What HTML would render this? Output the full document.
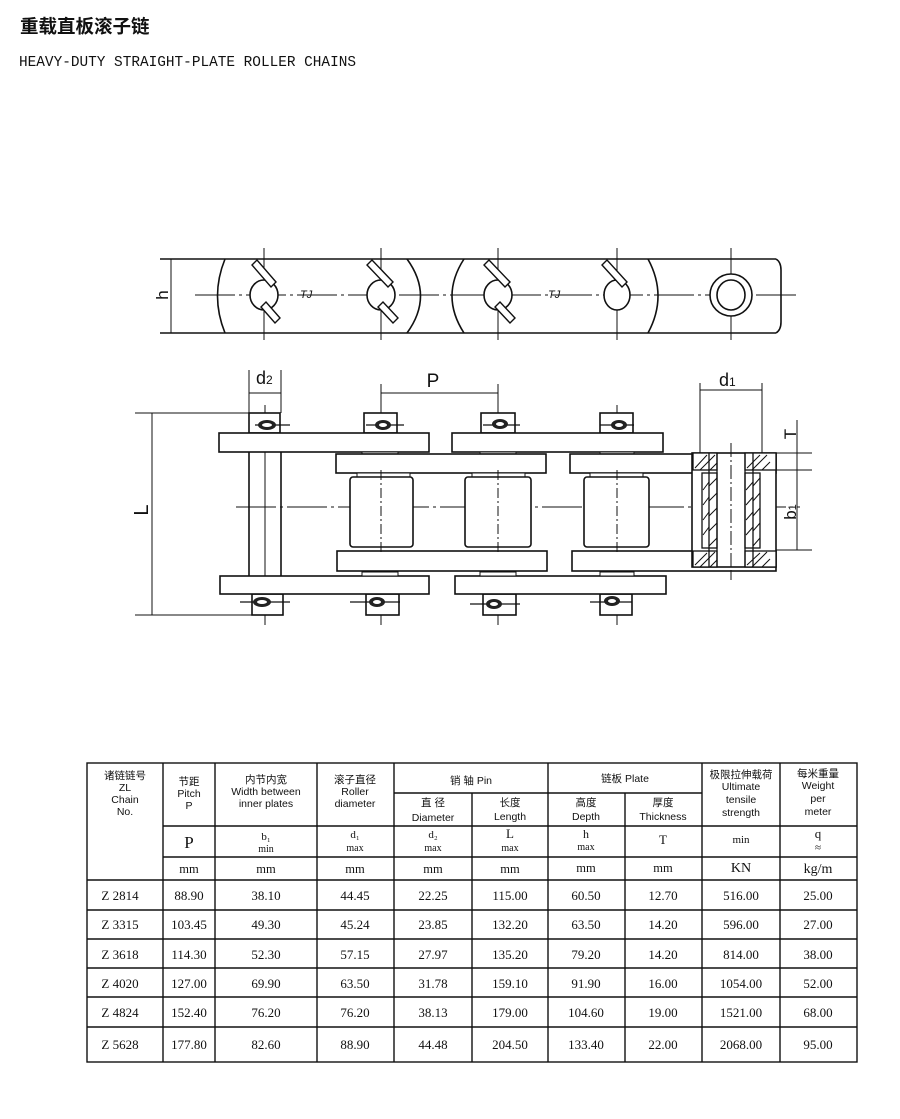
<!DOCTYPE html>
<html><head><meta charset="utf-8"><style>
html,body{margin:0;padding:0;background:#fff;}
svg{display:block;font-family:"Liberation Sans","Noto Sans CJK SC",sans-serif;}
text{fill:#111;}
.s{font-family:"Liberation Serif","Noto Serif CJK SC",serif;}
</style></head><body>
<svg width="900" height="1119" viewBox="0 0 900 1119" xmlns="http://www.w3.org/2000/svg">
<rect width="900" height="1119" fill="#fff"/>
<text x="20" y="33" font-size="18.5" font-weight="bold" style="font-family:'Noto Sans CJK SC',sans-serif">重载直板滚子链</text>
<text x="19" y="66" font-size="14.5" textLength="337" lengthAdjust="spacingAndGlyphs" style="font-family:'Liberation Mono',monospace">HEAVY-DUTY STRAIGHT-PLATE ROLLER CHAINS</text>

<g stroke="#111" fill="none" stroke-width="1.6">
<!-- TOP VIEW -->
<line x1="160" y1="259" x2="776" y2="259"/>
<line x1="160" y1="333" x2="776" y2="333"/>
<path d="M776 259 Q781 262 781 270 L781 322 Q781 330 776 333"/>
<path d="M225 259 Q210 296 225 333"/>
<path d="M407 259 Q434 296 407 333"/>
<path d="M464 259 Q440 296 464 333"/>
<path d="M648 259 Q668 296 648 333"/>
<line x1="171" y1="259" x2="171" y2="333" stroke-width="1"/>
<g stroke-width="1">
<line x1="195" y1="295" x2="800" y2="295" stroke-dasharray="40 4 3 4"/>
<line x1="264" y1="248" x2="264" y2="340"/><line x1="381" y1="248" x2="381" y2="340"/>
<line x1="498" y1="248" x2="498" y2="340"/><line x1="617" y1="248" x2="617" y2="340"/>
<line x1="731" y1="248" x2="731" y2="340"/>
</g>
<g fill="#fff">
<ellipse cx="264" cy="295" rx="14" ry="15"/>
<ellipse cx="381" cy="295" rx="14" ry="15"/>
<ellipse cx="498" cy="295" rx="14" ry="15"/>
<ellipse cx="617" cy="295" rx="13" ry="15"/>
<ellipse cx="731" cy="295" rx="21" ry="21"/>
<ellipse cx="731" cy="295" rx="14" ry="15"/>
</g>
<g fill="#fff" stroke-width="1.4">
<polygon points="252,265 257,260 276,282 271,287"/><polygon points="261,307 266,302 280,318 275,323"/>
<polygon points="367,265 372,260 393,282 388,287"/><polygon points="378,307 383,302 398,318 393,323"/>
<polygon points="484,265 489,260 510,282 505,287"/><polygon points="495,307 500,302 515,318 510,323"/>
<polygon points="602,265 607,260 627,282 622,287"/>
</g>
<!-- SIDE VIEW -->
<g stroke-width="1">
<line x1="249" y1="370" x2="249" y2="413"/><line x1="281" y1="370" x2="281" y2="413"/>
<line x1="249" y1="393" x2="281" y2="393"/>
<line x1="381" y1="384" x2="381" y2="625"/><line x1="498" y1="384" x2="498" y2="625"/>
<line x1="617" y1="405" x2="617" y2="625"/><line x1="265" y1="405" x2="265" y2="625"/>
<line x1="731" y1="443" x2="731" y2="580"/>
<line x1="381" y1="393" x2="498" y2="393"/>
<line x1="700" y1="383" x2="700" y2="453"/><line x1="762" y1="383" x2="762" y2="453"/>
<line x1="700" y1="390" x2="762" y2="390"/>
<line x1="135" y1="413" x2="250" y2="413"/><line x1="135" y1="615" x2="255" y2="615"/>
<line x1="152" y1="413" x2="152" y2="615"/>
<line x1="236" y1="507" x2="800" y2="507" stroke-dasharray="40 4 3 4"/>
<line x1="770" y1="453" x2="812" y2="453"/><line x1="770" y1="470" x2="812" y2="470"/>
<line x1="776" y1="550" x2="812" y2="550"/>
<line x1="797" y1="420" x2="797" y2="550"/>
</g>
<line x1="249" y1="452" x2="249" y2="576"/><line x1="281" y1="452" x2="281" y2="576"/>
<rect x="249" y="413" width="31" height="20" fill="#fff"/>
<rect x="364" y="413" width="33" height="20" fill="#fff"/>
<rect x="481" y="413" width="34" height="20" fill="#fff"/>
<rect x="600" y="413" width="33" height="20" fill="#fff"/>
<rect x="252" y="594" width="31" height="21" fill="#fff"/>
<rect x="366" y="594" width="33" height="21" fill="#fff"/>
<rect x="483" y="594" width="33" height="21" fill="#fff"/>
<rect x="600" y="594" width="32" height="21" fill="#fff"/>
<rect x="219" y="433" width="210" height="19" fill="#fff"/>
<rect x="452" y="433" width="211" height="19" fill="#fff"/>
<rect x="220" y="576" width="209" height="18" fill="#fff"/>
<rect x="455" y="576" width="211" height="18" fill="#fff"/>
<rect x="362" y="452" width="36" height="2" fill="#fff" stroke-width="1"/>
<rect x="480" y="452" width="36" height="2" fill="#fff" stroke-width="1"/>
<rect x="600" y="452" width="34" height="2" fill="#fff" stroke-width="1"/>
<rect x="362" y="572" width="36" height="4" fill="#fff" stroke-width="1"/>
<rect x="480" y="572" width="36" height="4" fill="#fff" stroke-width="1"/>
<rect x="600" y="572" width="34" height="4" fill="#fff" stroke-width="1"/>
<rect x="336" y="454" width="210" height="19" fill="#fff"/>
<rect x="570" y="454" width="206" height="19" fill="#fff"/>
<rect x="337" y="551" width="210" height="20" fill="#fff"/>
<rect x="572" y="551" width="204" height="20" fill="#fff"/>
<rect x="357" y="473" width="53" height="4" fill="#fff" stroke-width="1"/>
<rect x="472" y="473" width="53" height="4" fill="#fff" stroke-width="1"/>
<rect x="590" y="473" width="53" height="4" fill="#fff" stroke-width="1"/>
<rect x="350" y="477" width="63" height="70" rx="3" fill="#fff"/>
<rect x="465" y="477" width="66" height="70" rx="3" fill="#fff"/>
<rect x="584" y="477" width="65" height="70" rx="3" fill="#fff"/>
<g stroke-width="1">
<line x1="381" y1="470" x2="381" y2="555" stroke-dasharray="10 3 2 3"/>
<line x1="498" y1="470" x2="498" y2="555" stroke-dasharray="10 3 2 3"/>
<line x1="617" y1="470" x2="617" y2="555" stroke-dasharray="10 3 2 3"/>
</g>
<rect x="692" y="453" width="84" height="114" fill="#fff"/>
<g stroke-width="1.3">
<rect x="693" y="453" width="24" height="17" fill="#fff"/>
<rect x="745" y="453" width="31" height="17" fill="#fff"/>
<rect x="693" y="551" width="24" height="16" fill="#fff"/>
<rect x="745" y="551" width="31" height="16" fill="#fff"/>
<rect x="702" y="473" width="15" height="75" fill="#fff"/>
<rect x="745" y="473" width="15" height="75" fill="#fff"/>
<line x1="717" y1="453" x2="717" y2="567"/><line x1="745" y1="453" x2="745" y2="567"/>
<line x1="709" y1="453" x2="709" y2="567"/><line x1="753" y1="453" x2="753" y2="567"/>
</g>
<g stroke-width="1">
<path d="M695 468 L707 455 M700 470 L715 455 M710 470 L717 463 M747 468 L760 455 M752 470 L767 455 M762 470 L770 462 M695 565 L707 553 M700 567 L715 552 M710 567 L717 560 M747 565 L760 553 M752 567 L767 552 M762 567 L770 559"/>
<path d="M703 490 L709 482 M703 505 L709 497 M703 520 L709 512 M703 535 L709 527 M709 486 L717 478 M709 501 L717 493 M709 516 L717 508 M709 531 L717 523 M709 546 L717 538 M746 490 L753 482 M746 505 L753 497 M746 520 L753 512 M746 535 L753 527 M753 486 L760 478 M753 501 L760 493 M753 516 L760 508 M753 531 L760 523 M753 546 L760 538"/>
<line x1="731" y1="443" x2="731" y2="580" stroke-dasharray="14 3 2 3"/>
</g>
<g stroke-width="1.2">
<line x1="255" y1="425" x2="290" y2="425"/><line x1="366" y1="425" x2="404" y2="425"/>
<line x1="483" y1="425" x2="520" y2="425"/><line x1="600" y1="425" x2="634" y2="425"/>
<line x1="240" y1="602" x2="290" y2="602"/><line x1="350" y1="602" x2="400" y2="602"/>
<line x1="470" y1="604" x2="520" y2="604"/><line x1="590" y1="602" x2="632" y2="602"/>
</g>
<g fill="#222" stroke="none">
<ellipse cx="267" cy="425" rx="9" ry="5"/><ellipse cx="383" cy="425" rx="8" ry="5"/>
<ellipse cx="500" cy="424" rx="8" ry="5"/><ellipse cx="619" cy="425" rx="8" ry="5"/>
<ellipse cx="262" cy="602" rx="9" ry="5"/><ellipse cx="377" cy="602" rx="8" ry="5"/>
<ellipse cx="494" cy="604" rx="8" ry="5"/><ellipse cx="612" cy="601" rx="8" ry="5"/>
</g>
<g fill="#fff" stroke="none">
<ellipse cx="267" cy="425" rx="5" ry="2"/><ellipse cx="383" cy="425" rx="4" ry="2"/>
<ellipse cx="500" cy="424" rx="4" ry="2"/><ellipse cx="619" cy="425" rx="4" ry="2"/>
<ellipse cx="262" cy="602" rx="5" ry="2"/><ellipse cx="377" cy="602" rx="4" ry="2"/>
<ellipse cx="494" cy="604" rx="4" ry="2"/><ellipse cx="612" cy="601" rx="4" ry="2"/>
</g>
</g>
<text x="300" y="298" font-size="11" font-style="italic">TJ</text>
<text x="548" y="298" font-size="11" font-style="italic">TJ</text>
<text x="0" y="0" font-size="17" transform="translate(168,295) rotate(-90)" text-anchor="middle">h</text>
<text x="256" y="384" font-size="18">d<tspan font-size="12">2</tspan></text>
<text x="433" y="387" font-size="19" text-anchor="middle">P</text>
<text x="719" y="386" font-size="18">d<tspan font-size="12">1</tspan></text>
<text x="0" y="0" font-size="20" transform="translate(148,510) rotate(-90)" text-anchor="middle">L</text>
<text x="0" y="0" font-size="17" transform="translate(796,434) rotate(-90)" text-anchor="middle">T</text>
<text x="0" y="0" font-size="17" transform="translate(796,512) rotate(-90)" text-anchor="middle">b<tspan font-size="11">1</tspan></text>

<g stroke="#111" stroke-width="1.4" fill="none">
<rect x="87" y="763" width="770" height="299"/>
<line x1="163" y1="763" x2="163" y2="1062"/><line x1="215" y1="763" x2="215" y2="1062"/>
<line x1="317" y1="763" x2="317" y2="1062"/><line x1="394" y1="763" x2="394" y2="1062"/>
<line x1="472" y1="793" x2="472" y2="1062"/><line x1="548" y1="763" x2="548" y2="1062"/>
<line x1="625" y1="793" x2="625" y2="1062"/><line x1="702" y1="763" x2="702" y2="1062"/>
<line x1="780" y1="763" x2="780" y2="1062"/>
<line x1="394" y1="793" x2="702" y2="793"/>
<line x1="163" y1="826" x2="857" y2="826"/>
<line x1="163" y1="857" x2="857" y2="857"/>
<line x1="87" y1="880" x2="857" y2="880"/>
<line x1="87" y1="910" x2="857" y2="910"/><line x1="87" y1="939" x2="857" y2="939"/>
<line x1="87" y1="968" x2="857" y2="968"/><line x1="87" y1="997" x2="857" y2="997"/>
<line x1="87" y1="1027" x2="857" y2="1027"/>
</g>
<g font-size="10.5" text-anchor="middle">
<text x="125" y="779">诸链链号</text><text x="125" y="791">ZL</text><text x="125" y="803">Chain</text><text x="125" y="815">No.</text>
<text x="189" y="785">节距</text><text x="189" y="797">Pitch</text><text x="189" y="809">P</text>
<text x="266" y="783">内节内宽</text><text x="266" y="795">Width  between</text><text x="266" y="807">inner plates</text>
<text x="355" y="783">滚子直径</text><text x="355" y="795">Roller</text><text x="355" y="807">diameter</text>
<text x="471" y="784">销  轴    Pin</text>
<text x="625" y="782">链板    Plate</text>
<text x="433" y="806">直 径</text><text x="433" y="821">Diameter</text>
<text x="510" y="806">长度</text><text x="510" y="820">Length</text>
<text x="586" y="806">高度</text><text x="586" y="820">Depth</text>
<text x="663" y="806">厚度</text><text x="663" y="820">Thickness</text>
<text x="741" y="778">极限拉伸载荷</text><text x="741" y="790">Ultimate</text><text x="741" y="803">tensile</text><text x="741" y="816">strength</text>
<text x="818" y="777">每米重量</text><text x="818" y="789">Weight</text><text x="818" y="802">per</text><text x="818" y="815">meter</text>
</g>
<g class="s" text-anchor="middle" font-size="11">
<text x="189" y="848" font-size="17">P</text>
<text x="266" y="840" font-size="11">b₁</text><text x="266" y="852" font-size="10">min</text>
<text x="355" y="838">d₁</text><text x="355" y="851" font-size="10">max</text>
<text x="433" y="838">d₂</text><text x="433" y="851" font-size="10">max</text>
<text x="510" y="838" font-size="13">L</text><text x="510" y="851" font-size="10">max</text>
<text x="586" y="838" font-size="12">h</text><text x="586" y="850" font-size="10">max</text>
<text x="663" y="844" font-size="13">T</text>
<text x="741" y="843">min</text>
<text x="818" y="838" font-size="13">q</text><text x="818" y="851">≈</text>
</g>
<g class="s" text-anchor="middle" font-size="12.5">
<text x="189" y="873">mm</text><text x="266" y="873">mm</text><text x="355" y="873">mm</text><text x="433" y="873">mm</text><text x="510" y="873">mm</text><text x="586" y="872">mm</text><text x="663" y="872">mm</text><text x="741" y="872" font-size="14">KN</text><text x="818" y="873" font-size="14">kg/m</text>
</g>
<g class="s" text-anchor="middle" font-size="13">
<text x="120" y="900">Z 2814</text><text x="189" y="900">88.90</text><text x="266" y="900">38.10</text><text x="355" y="900">44.45</text><text x="433" y="900">22.25</text><text x="510" y="900">115.00</text><text x="586" y="900">60.50</text><text x="663" y="900">12.70</text><text x="741" y="900">516.00</text><text x="818" y="900">25.00</text>
<text x="120" y="929">Z 3315</text><text x="189" y="929">103.45</text><text x="266" y="929">49.30</text><text x="355" y="929">45.24</text><text x="433" y="929">23.85</text><text x="510" y="929">132.20</text><text x="586" y="929">63.50</text><text x="663" y="929">14.20</text><text x="741" y="929">596.00</text><text x="818" y="929">27.00</text>
<text x="120" y="959">Z 3618</text><text x="189" y="959">114.30</text><text x="266" y="959">52.30</text><text x="355" y="959">57.15</text><text x="433" y="959">27.97</text><text x="510" y="959">135.20</text><text x="586" y="959">79.20</text><text x="663" y="959">14.20</text><text x="741" y="959">814.00</text><text x="818" y="959">38.00</text>
<text x="120" y="988">Z 4020</text><text x="189" y="988">127.00</text><text x="266" y="988">69.90</text><text x="355" y="988">63.50</text><text x="433" y="988">31.78</text><text x="510" y="988">159.10</text><text x="586" y="988">91.90</text><text x="663" y="988">16.00</text><text x="741" y="988">1054.00</text><text x="818" y="988">52.00</text>
<text x="120" y="1017">Z 4824</text><text x="189" y="1017">152.40</text><text x="266" y="1017">76.20</text><text x="355" y="1017">76.20</text><text x="433" y="1017">38.13</text><text x="510" y="1017">179.00</text><text x="586" y="1017">104.60</text><text x="663" y="1017">19.00</text><text x="741" y="1017">1521.00</text><text x="818" y="1017">68.00</text>
<text x="120" y="1049">Z 5628</text><text x="189" y="1049">177.80</text><text x="266" y="1049">82.60</text><text x="355" y="1049">88.90</text><text x="433" y="1049">44.48</text><text x="510" y="1049">204.50</text><text x="586" y="1049">133.40</text><text x="663" y="1049">22.00</text><text x="741" y="1049">2068.00</text><text x="818" y="1049">95.00</text>
</g>
</svg>
</body></html>
